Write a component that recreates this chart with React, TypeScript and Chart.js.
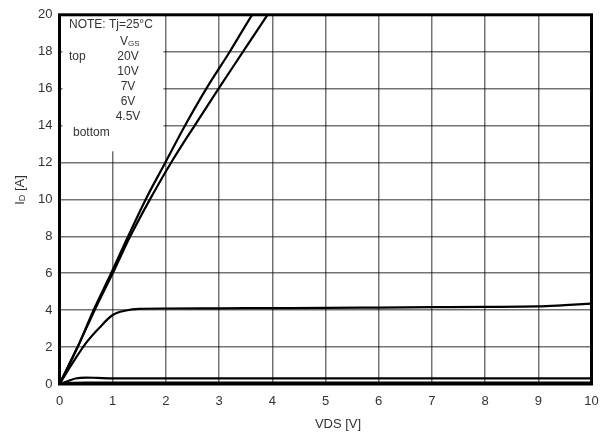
import React, { useEffect, useRef } from "react";
import { Chart, registerables } from "chart.js";

Chart.register(...registerables);

// VGS = 20 V
const vds20 = [0, 0.34, 0.64, 0.97, 1.29, 1.62, 1.99, 2.36, 2.76, 3.2, 3.62, 3.8];
const id20 = [0, 2, 4, 6, 8, 10, 12, 14, 16, 18, 20, 20.8];
// VGS = 10 V
const vds10 = [0, 0.34, 0.66, 1.0, 1.33, 1.7, 2.1, 2.54, 2.99, 3.45, 3.91, 4.1];
const id10 = [0, 2, 4, 6, 8, 10, 12, 14, 16, 18, 20, 20.8];
// VGS = 7 V
const vds7 = [0, 0.25, 0.5, 0.75, 1, 1.25, 1.5, 2, 3, 4, 5, 6, 7, 8, 9, 9.5, 10];
const id7 = [0, 1.16, 2.23, 3.05, 3.74, 3.98, 4.07, 4.09, 4.1, 4.11, 4.12, 4.14, 4.16, 4.18, 4.2, 4.27, 4.35];
// VGS = 6 V
const vds6 = [0, 0.15, 0.3, 0.5, 0.7, 1, 2, 4, 6, 8, 10];
const id6 = [0, 0.15, 0.3, 0.35, 0.33, 0.3, 0.3, 0.3, 0.3, 0.3, 0.3];
// VGS = 4.5 V
const vds45 = [0, 0.2, 0.5, 1, 3, 5, 7, 10];
const id45 = [0, 0.06, 0.08, 0.08, 0.08, 0.08, 0.08, 0.08];

const xTicks = [0, 1, 2, 3, 4, 5, 6, 7, 8, 9, 10];
const yTicks = [0, 2, 4, 6, 8, 10, 12, 14, 16, 18, 20];

const legendLabels = ["20V", "10V", "7V", "6V", "4.5V"];

const FONT = "'Liberation Sans', Arial, sans-serif";
const TEXT = "#333";

const pairs = (xs: number[], ys: number[]) => xs.map((x, i) => ({ x, y: ys[i] }));

export default function App() {
  const ref = useRef<HTMLCanvasElement | null>(null);

  useEffect(() => {
    document.body.style.margin = "0";
    const canvas = ref.current;
    if (!canvas) return;

    const series = [
      pairs(vds20, id20),
      pairs(vds10, id10),
      pairs(vds7, id7),
      pairs(vds6, id6),
      pairs(vds45, id45),
    ];

    const overlay = {
      id: "overlay",
      beforeDatasetsDraw(chart: any) {
        const ctx = chart.ctx;
        const a = chart.chartArea;
        ctx.save();
        // note box
        ctx.fillStyle = "#fff";
        ctx.fillRect(a.left + 3, a.top, 101, 136.5);
        ctx.fillStyle = TEXT;
        ctx.font = `12px ${FONT}`;
        ctx.textBaseline = "middle";
        ctx.textAlign = "left";
        ctx.fillText("NOTE: Tj=25°C", 69, 25);
        ctx.fillText("top", 69, 56.5);
        ctx.fillText("bottom", 73, 133);
        // VGS
        ctx.fillText("V", 120, 41.5);
        ctx.font = `8px ${FONT}`;
        ctx.fillText("GS", 128, 44);
        ctx.font = `12px ${FONT}`;
        ctx.textAlign = "center";
        legendLabels.forEach((t, i) => {
          ctx.fillText(t, 128, 56.5 + i * 15);
        });
        ctx.restore();
      },
      afterDraw(chart: any) {
        const ctx = chart.ctx;
        const a = chart.chartArea;
        ctx.save();
        ctx.strokeStyle = "#000";
        ctx.lineWidth = 3;
        ctx.strokeRect(a.left, a.top, a.right - a.left, a.bottom - a.top);
        // axis titles
        ctx.fillStyle = TEXT;
        ctx.font = `13px ${FONT}`;
        ctx.textBaseline = "middle";
        ctx.textAlign = "center";
        ctx.fillText("VDS [V]", 338, 424);
        ctx.translate(20, 190);
        ctx.rotate(-Math.PI / 2);
        ctx.textAlign = "left";
        const w1 = ctx.measureText("I").width;
        ctx.font = `9px ${FONT}`;
        const w2 = ctx.measureText("D").width;
        ctx.font = `13px ${FONT}`;
        const w3 = ctx.measureText(" [A]").width;
        const total = w1 + w2 + w3;
        let x = -total / 2;
        ctx.fillText("I", x, 0);
        x += w1;
        ctx.font = `9px ${FONT}`;
        ctx.fillText("D", x, 3);
        x += w2;
        ctx.font = `13px ${FONT}`;
        ctx.fillText(" [A]", x, 0);
        ctx.restore();
      },
    };

    const chart = new Chart(canvas, {
      type: "scatter",
      data: {
        datasets: series.map((d) => ({
          data: d,
          showLine: true,
          borderColor: "#000",
          borderWidth: 2.2,
          pointRadius: 0,
          cubicInterpolationMode: "monotone" as const,
          fill: false,
        })),
      },
      options: {
        animation: false,
        responsive: false,
        devicePixelRatio: 1,
        layout: { padding: { left: 0, top: 10.5, right: 18.5, bottom: 0 } },
        plugins: { legend: { display: false }, tooltip: { enabled: false } },
        scales: {
          x: {
            type: "linear",
            min: 0,
            max: 10,
            afterBuildTicks: (s: any) => {
              s.ticks = xTicks.map((v) => ({ value: v }));
            },
            afterFit: (s: any) => {
              s.height = 54;
            },
            grid: { color: "rgba(0,0,0,0.55)", lineWidth: 1.5, drawTicks: false },
            border: { display: false },
            ticks: { color: TEXT, font: { family: FONT, size: 13 }, padding: 10, maxRotation: 0 },
          },
          y: {
            type: "linear",
            min: 0,
            max: 20,
            afterBuildTicks: (s: any) => {
              s.ticks = yTicks.map((v) => ({ value: v }));
            },
            afterFit: (s: any) => {
              s.width = 59.5;
            },
            grid: { color: "rgba(0,0,0,0.55)", lineWidth: 1.5, drawTicks: false },
            border: { display: false },
            ticks: { color: TEXT, font: { family: FONT, size: 13 }, padding: 7 },
          },
        },
      },
      plugins: [overlay],
    } as any);

    return () => chart.destroy();
  }, []);

  return <canvas ref={ref} width={610} height={438} style={{ display: "block" }} />;
}
